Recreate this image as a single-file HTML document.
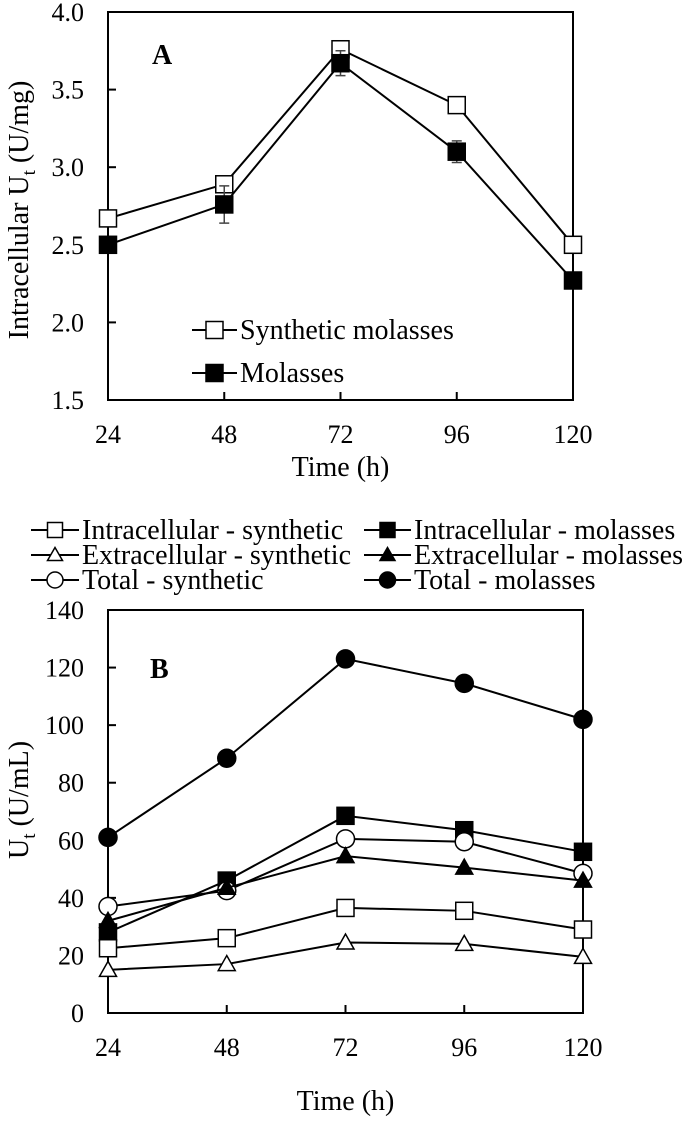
<!DOCTYPE html>
<html><head><meta charset="utf-8"><style>
html,body{margin:0;padding:0;background:#fff;}
svg{display:block;font-family:"Liberation Serif",serif;}
</style></head><body>
<svg id="chart" width="685" height="1128" viewBox="0 0 685 1128"></svg>
<script>
const times=[24,48,72,96,120];
const aTicks=[1.5,2.0,2.5,3.0,3.5,4.0];
const aSynthetic=[2.67,2.89,3.76,3.40,2.50];
const aSyntheticErr=[0.03,0.03,0.04,0.04,0.03];
const aMolasses=[2.50,2.76,3.67,3.10,2.27];
const aMolassesErr=[0.05,0.12,0.08,0.07,0.03];
const bTicks=[0,20,40,60,80,100,120,140];
const intraSyn=[22.5,26,36.5,35.5,29];
const intraMol=[28,46,68.5,63.5,56];
const extraSyn=[15,17,24.5,24,19.5];
const extraMol=[32,43.5,54.5,50.5,46];
const totalSyn=[37,42.5,60.5,59.5,48.5];
const totalMol=[61,88.5,123,114.5,102];

const NS="http://www.w3.org/2000/svg";
const svg=document.getElementById('chart');
function mk(tag,attrs,parent){const e=document.createElementNS(NS,tag);for(const k in attrs)e.setAttribute(k,attrs[k]);(parent||svg).appendChild(e);return e;}
function txt(s,x,y,size,anchor,parent,extra){const t=mk('text',Object.assign({x:x,y:y,'font-size':size,'text-anchor':anchor||'start',fill:'#000'},extra||{}),parent);t.textContent=s;return t;}

function marker(g,shape,fill,x,y,s){
  let m;
  if(shape==='square'){m=mk('rect',{x:x-s/2,y:y-s/2,width:s,height:s,fill:fill,stroke:'#000','stroke-width':1.5},g);}
  else if(shape==='circle'){m=mk('circle',{cx:x,cy:y,r:s/2,fill:fill,stroke:'#000','stroke-width':1.5},g);}
  else {m=mk('polygon',{points:`${x},${y-s/2} ${x-s/2},${y+s/2-2} ${x+s/2},${y+s/2-2}`,fill:fill,stroke:'#000','stroke-width':1.5},g);}
  return m;
}

function panel(cfg){
  const {L,R,T,B,yMin,yMax,ticks,fmt}=cfg;
  const xs=v=>L+(v-24)/(120-24)*(R-L);
  const ys=v=>B-(v-yMin)/(yMax-yMin)*(B-T);
  const g=mk('g',{});
  
  
  const frame=mk('rect',{x:L,y:T,width:R-L,height:B-T,fill:'none',stroke:'#000','stroke-width':2},g);
  
  
  ticks.forEach(v=>{
    const y=ys(v);
    const tk=mk('line',{x1:L,x2:L+8,y1:y,y2:y,stroke:'#000','stroke-width':2},g);
    
    
    const t=txt(fmt(v),L-24,y+9,26,'end',g);
    
    
  });
  times.forEach(v=>{
    const x=xs(v);
    const tk=mk('line',{x1:x,x2:x,y1:B,y2:B-8,stroke:'#000','stroke-width':2},g);
    
    
    const t=txt(String(v),x,B+43,26,'middle',g);
    
    
  });
  const xt=txt('Time (h)',(L+R)/2,cfg.xTitleY,28,'middle',g);
  
  
  const yt=mk('text',{x:0,y:0,'font-size':28,'text-anchor':'middle',fill:'#000',transform:`translate(${cfg.yTitleX},${cfg.yTitleY}) rotate(-90)`},g);
  yt.innerHTML=cfg.yTitle;
  
  
  const pl=txt(cfg.label,cfg.labelX,cfg.labelY,28,'start',g,{'font-weight':'bold'});
  
  
  cfg.series.forEach(s=>{
    const sg=mk('g',{},g);
    
    
    const pts=s.values.map((v,i)=>`${xs(times[i])},${ys(v)}`).join(' ');
    const ln=mk('polyline',{points:pts,fill:'none',stroke:'#000','stroke-width':2},sg);
    
    
    if(s.err){s.values.forEach((v,i)=>{
      const x=xs(times[i]),y1=ys(v+s.err[i]),y2=ys(v-s.err[i]);
      const eb=mk('path',{d:`M${x},${y1}V${y2}M${x-5},${y1}H${x+5}M${x-5},${y2}H${x+5}`,stroke:'#444','stroke-width':1.5,fill:'none'},sg);
      
      
    });}
    s.values.forEach((v,i)=>{
      const m=marker(sg,s.shape,s.fill,xs(times[i]),ys(v),s.size);
      
      
    });
  });
}

panel({name:'panel-a',L:108,R:573,T:12,B:400,yMin:1.5,yMax:4.0,ticks:aTicks,fmt:v=>v.toFixed(1),
  xTitleY:476,yTitleX:28,yTitleY:210,yTitle:'Intracellular U<tspan font-size="19" dy="7">t</tspan><tspan dy="-7"> (U/mg)</tspan>',
  label:'A',labelX:152,labelY:64,
  series:[
    {name:'series-synthetic-molasses',values:aSynthetic,err:aSyntheticErr,shape:'square',fill:'#fff',size:17},
    {name:'series-molasses',values:aMolasses,err:aMolassesErr,shape:'square',fill:'#000',size:17}
  ]});

panel({name:'panel-b',L:108,R:583,T:610,B:1013,yMin:0,yMax:140,ticks:bTicks,fmt:v=>String(v),
  xTitleY:1110,yTitleX:28,yTitleY:800,yTitle:'U<tspan font-size="19" dy="7">t</tspan><tspan dy="-7"> (U/mL)</tspan>',
  label:'B',labelX:150,labelY:678,
  series:[
    {name:'series-total-molasses',values:totalMol,shape:'circle',fill:'#000',size:18},
    {name:'series-intracellular-molasses',values:intraMol,shape:'square',fill:'#000',size:17},
    {name:'series-total-synthetic',values:totalSyn,shape:'circle',fill:'#fff',size:18},
    {name:'series-extracellular-molasses',values:extraMol,shape:'triangle',fill:'#000',size:17},
    {name:'series-intracellular-synthetic',values:intraSyn,shape:'square',fill:'#fff',size:17},
    {name:'series-extracellular-synthetic',values:extraSyn,shape:'triangle',fill:'#fff',size:17}
  ]});

function legendEntry(x1,x2,y,shape,fill,label,size){
  const g=mk('g',{});
  
  
  mk('line',{x1:x1,x2:x2,y1:y,y2:y,stroke:'#000','stroke-width':2},g);
  marker(g,shape,fill,(x1+x2)/2,y,size);
  txt(label,x2+3,y+9,28,'start',g);
}
legendEntry(192,237,330,'square','#fff','Synthetic molasses',17);
legendEntry(192,237,373,'square','#000','Molasses',17);

legendEntry(31,79,530,'square','#fff','Intracellular - synthetic',15);
legendEntry(31,79,555,'triangle','#fff','Extracellular - synthetic',15);
legendEntry(31,79,580,'circle','#fff','Total - synthetic',16);
legendEntry(364,411,530,'square','#000','Intracellular - molasses',15);
legendEntry(364,411,555,'triangle','#000','Extracellular - molasses',15);
legendEntry(364,411,580,'circle','#000','Total - molasses',16);
</script>
</body></html>
